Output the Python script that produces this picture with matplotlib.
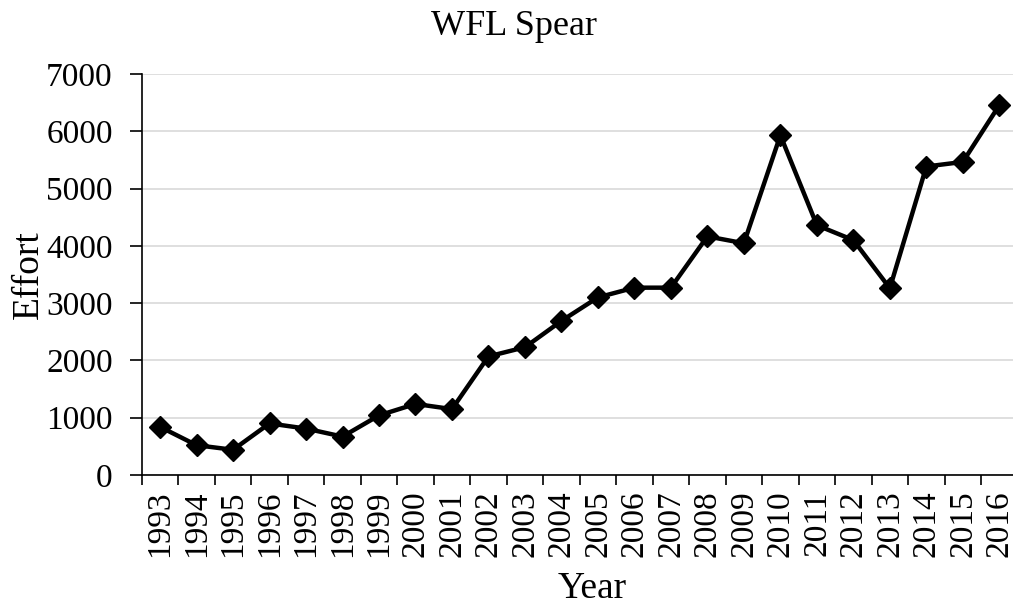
import matplotlib
matplotlib.use("Agg")
import matplotlib.pyplot as plt
from matplotlib.ticker import FixedLocator, NullFormatter

years = [str(y) for y in range(1993, 2017)]
effort = [840, 520, 440, 900, 810, 670, 1040, 1240, 1150, 2070,
          2230, 2690, 3100, 3270, 3270, 4165, 4045, 5930, 4360, 4100,
          3260, 5385, 5465, 6455]
y_ticks = [0, 1000, 2000, 3000, 4000, 5000, 6000, 7000]

plt.rcParams["font.family"] = ["Liberation Serif", "DejaVu Serif"]

fig = plt.figure(figsize=(10.13, 6.05), dpi=100)
ax = fig.add_axes([0.140, 0.2149, 0.8645, 0.6628])

x = list(range(len(years)))
ax.plot(x, effort, color="black", linewidth=3.2, marker="D", markersize=11,
        zorder=3)

ax.set_xlim(-0.5, len(years) - 0.5)
ax.set_ylim(0, 7000)
ax.set_yticks(y_ticks)
ax.set_yticklabels([str(v) for v in y_ticks], fontsize=24)

# category labels centered, ticks at boundaries (Excel style)
ax.set_xticks(x)
ax.set_xticklabels(years, rotation=90, fontsize=24)
ax.tick_params(axis="x", which="major", length=0, pad=11)
ax.xaxis.set_minor_locator(FixedLocator([i - 0.5 for i in range(len(years) + 1)]))
ax.xaxis.set_minor_formatter(NullFormatter())
ax.tick_params(axis="x", which="minor", length=7, width=1.2, color="black")
ax.tick_params(axis="y", length=9, width=1.2, pad=12)

ax.grid(axis="y", color="#d9d9d9", linewidth=1.2, zorder=0)
ax.set_axisbelow(True)
for side in ("top", "right"):
    ax.spines[side].set_visible(False)
for side in ("left", "bottom"):
    ax.spines[side].set_linewidth(1.2)

fig.text(0.507, 0.942, "WFL Spear", fontsize=26, ha="center", va="baseline")
ax.set_ylabel("Effort", fontsize=27)
ax.yaxis.set_label_coords(-0.109, 0.5)
ax.set_xlabel("Year", fontsize=27)
ax.xaxis.set_label_coords(0.514, -0.241)

fig.savefig("out.png", dpi=100)
